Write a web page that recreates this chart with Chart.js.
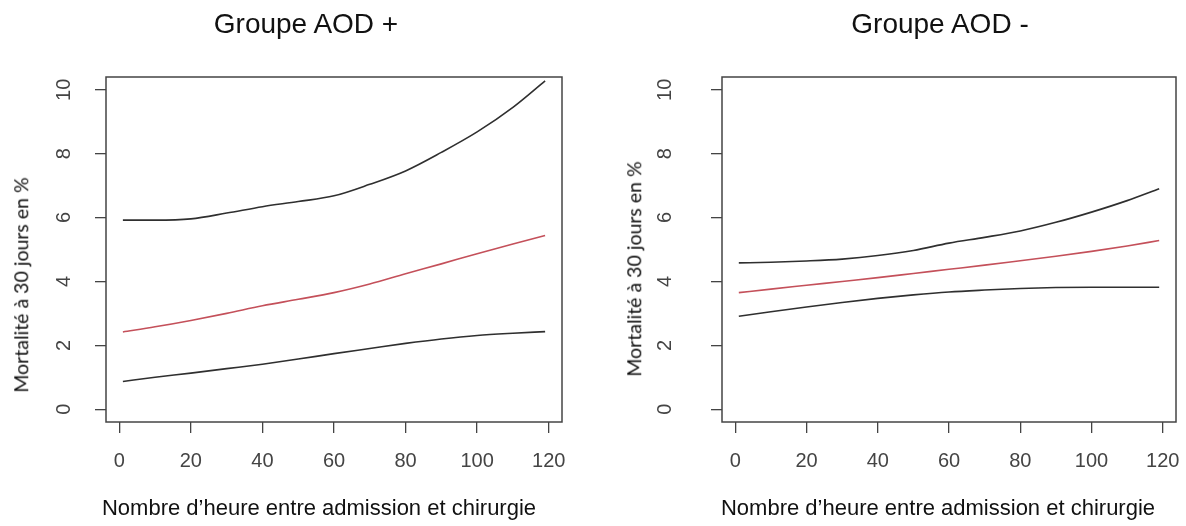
<!DOCTYPE html>
<html lang="fr">
<head>
<meta charset="utf-8">
<title>Mortalité à 30 jours - Groupe AOD</title>
<script src="https://cdn.jsdelivr.net/npm/chart.js@4.4.1/dist/chart.umd.min.js"></script>
<style>
    html, body { margin: 0; padding: 0; background: #fff; }
    body { position: relative; width: 1186px; height: 526px; overflow: hidden; font-family: "Liberation Sans", Arial, sans-serif; }
    .panneau { position: absolute; top: 0; width: 593px; height: 526px; }
    .texte { position: absolute; transform: translate(-50%, -50%); white-space: nowrap; line-height: 1; color: #111; }
    .titre { font-size: 28px; }
    .titreX { font-size: 22px; }
    .titreY { font-family: Lato, "Open Sans", sans-serif; font-size: 19.5px; transform: translate(-50%, -50%) rotate(-90deg); }
</style>
</head>
<body>
<div class="panneau" style="left:0"><canvas id="grapheAodPlus"></canvas></div>
<div class="panneau" style="left:593px"><canvas id="grapheAodMoins"></canvas></div>

<div class="texte titre" style="left:306px; top:24px">Groupe AOD +</div>
<div class="texte titre" style="left:940px; top:24px">Groupe AOD -</div>
<div class="texte titreX" style="left:319px; top:508px">Nombre d’heure entre admission et chirurgie</div>
<div class="texte titreX" style="left:938px; top:508px">Nombre d’heure entre admission et chirurgie</div>
<div class="texte titreY" style="left:21px; top:285px">Mortalité à 30 jours en %</div>
<div class="texte titreY" style="left:634px; top:269px">Mortalité à 30 jours en %</div>

<script>
// ==================== DONNEES ====================
const heures = [1, 10, 20, 30, 40, 50, 60, 70, 80, 90, 100, 110, 119];

// Groupe AOD + (borne haute, estimation, borne basse)
const aodPlusHaut  = [5.92, 5.92, 5.96, 6.14, 6.34, 6.50, 6.68, 7.04, 7.46, 8.04, 8.68, 9.45, 10.28];
const aodPlusMoy   = [2.42, 2.58, 2.78, 3.00, 3.24, 3.44, 3.65, 3.92, 4.24, 4.55, 4.87, 5.17, 5.44];
const aodPlusBas   = [0.87, 1.00, 1.13, 1.27, 1.41, 1.57, 1.74, 1.90, 2.06, 2.20, 2.31, 2.38, 2.43];

// Groupe AOD -
const aodMoinsHaut = [4.58, 4.60, 4.64, 4.70, 4.81, 4.97, 5.20, 5.38, 5.58, 5.85, 6.17, 6.53, 6.90];
const aodMoinsMoy  = [3.65, 3.76, 3.88, 4.00, 4.12, 4.25, 4.38, 4.51, 4.65, 4.79, 4.94, 5.11, 5.28];
const aodMoinsBas  = [2.91, 3.05, 3.20, 3.34, 3.47, 3.58, 3.67, 3.73, 3.78, 3.81, 3.82, 3.82, 3.82];

const ticksX = [0, 20, 40, 60, 80, 100, 120];
const ticksY = [0, 2, 4, 6, 8, 10];

// ==================== UTILITAIRES ====================
// étendue façon R : 4 % de marge de chaque côté
function etendue(min, max) {
    const marge = (max - min) * 0.04;
    return { min: min - marge, max: max + marge };
}
const limX = etendue(heures[0], heures[heures.length - 1]);
const limY = etendue(0, 10);

function points(valeurs) {
    return heures.map((h, i) => ({ x: h, y: valeurs[i] }));
}

// cadre autour de la zone de tracé (box() de R)
const cadre = {
    id: 'cadre',
    afterDraw(chart) {
        const { ctx, chartArea: a } = chart;
        ctx.save();
        ctx.strokeStyle = '#444';
        ctx.lineWidth = 1.5;
        ctx.strokeRect(a.left, a.top, a.right - a.left, a.bottom - a.top);
        ctx.restore();
    }
};

const policeTicks = { family: '"Liberation Sans", Arial, sans-serif', size: 20 };

// ==================== CREER GRAPHE ====================
function creerGraphe(id, haut, moy, bas, reglage) {
    const serie = (valeurs, couleur) => ({
        data: points(valeurs),
        borderColor: couleur,
        borderWidth: 1.6,
        pointRadius: 0,
        fill: false,
        cubicInterpolationMode: 'monotone'
    });
    return new Chart(document.getElementById(id), {
        type: 'line',
        data: { datasets: [serie(haut, '#2f2f2f'), serie(moy, '#c4505a'), serie(bas, '#2f2f2f')] },
        options: {
            responsive: true,
            maintainAspectRatio: false,
            animation: false,
            layout: { padding: { left: 0, right: reglage.droite, top: 77, bottom: 0 } },
            plugins: { legend: { display: false }, tooltip: { enabled: false } },
            scales: {
                x: {
                    type: 'linear',
                    min: limX.min,
                    max: limX.max,
                    afterBuildTicks: s => { s.ticks = ticksX.map(v => ({ value: v })); },
                    afterFit: s => { s.height = 104; s.paddingLeft = 0; s.paddingRight = 0; },
                    grid: { drawOnChartArea: false, tickLength: 11, tickColor: '#444', lineWidth: 1.3 },
                    border: { display: false },
                    ticks: { font: policeTicks, color: '#444', padding: 16, maxRotation: 0 }
                },
                y: {
                    type: 'linear',
                    min: limY.min,
                    max: limY.max,
                    afterBuildTicks: s => { s.ticks = ticksY.map(v => ({ value: v })); },
                    afterFit: s => { s.width = reglage.largeurY; s.paddingTop = 0; s.paddingBottom = 0; },
                    grid: { drawOnChartArea: false, tickLength: 11, tickColor: '#444', lineWidth: 1.3 },
                    border: { display: false },
                    ticks: { font: policeTicks, color: '#444', padding: reglage.ecartY, minRotation: 90, maxRotation: 90, crossAlign: 'center' }
                }
            }
        },
        plugins: [cadre]
    });
}

// ==================== INITIALISER ====================
creerGraphe('grapheAodPlus', aodPlusHaut, aodPlusMoy, aodPlusBas, { largeurY: 106, droite: 31, ecartY: 19 });
creerGraphe('grapheAodMoins', aodMoinsHaut, aodMoinsMoy, aodMoinsBas, { largeurY: 129, droite: 10, ecartY: 34 });
</script>
</body>
</html>
